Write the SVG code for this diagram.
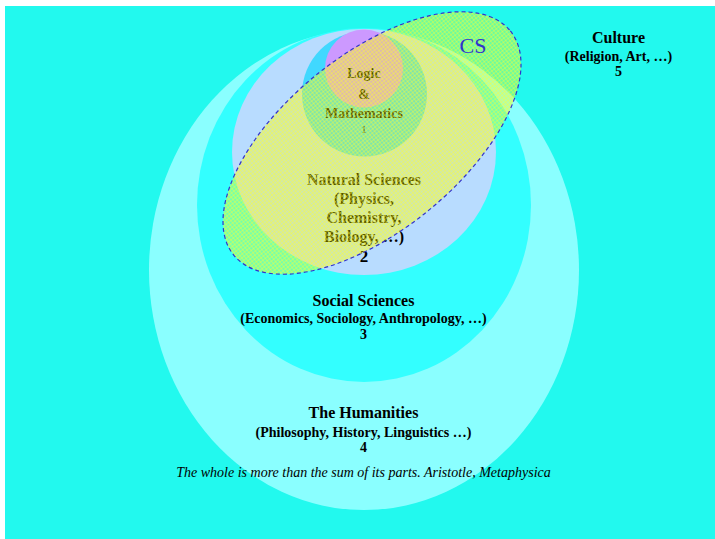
<svg xmlns="http://www.w3.org/2000/svg" width="715" height="539" viewBox="0 0 715 539">
<defs>
<pattern id="mesh" patternUnits="userSpaceOnUse" width="3" height="3">
<rect width="3" height="3" fill="#ffff00" fill-opacity="0.33"/>
<path d="M0 0.5H3M0.5 0V3" stroke="#ffff30" stroke-width="0.8" stroke-opacity="0.5" fill="none"/>
</pattern>
</defs>
<style>
text{font-family:"Liberation Serif","Times New Roman",serif;text-anchor:middle;fill:#000}
.t{font-weight:bold;font-size:16px}
.s{font-weight:bold;font-size:14px}
.n{font-weight:bold;font-size:14px}
.q{font-style:italic;font-size:14px}
</style>
<rect x="5" y="6" width="710" height="533" fill="#22f9ee"/>
<g id="humanities">
<ellipse cx="364" cy="270" rx="215" ry="240" fill="#8affff"/>
</g>
<g id="social">
<ellipse cx="364" cy="205" rx="167" ry="177" fill="#33ffff"/>
</g>
<g id="natural">
<ellipse cx="364" cy="152" rx="132" ry="123" fill="#b8dcff"/>
</g>
<g id="logic">
<circle cx="364.5" cy="94" r="62.5" fill="#40d8ff"/>
<circle cx="364" cy="68.5" r="39" fill="#cc99ff"/>
</g>
<g id="labels-inner">
<text class="t" x="364" y="78" style="font-size:14px">Logic</text>
<text class="t" x="364" y="99" style="font-size:14px">&amp;</text>
<text class="t" x="364" y="118" style="font-size:14px">Mathematics</text>
<text x="364" y="133" style="font-size:10px">1</text>
<text class="t" x="364" y="185">Natural Sciences</text>
<text class="t" x="364" y="204">(Physics,</text>
<text class="t" x="364" y="223">Chemistry,</text>
<text class="t" x="364" y="242">Biology, …)</text>
<text class="t" x="364" y="262" style="font-size:17px">2</text>
</g>
<g id="social-labels">
<text class="t" x="363.5" y="306">Social Sciences</text>
<text class="s" x="363.5" y="323">(Economics, Sociology, Anthropology, …)</text>
<text class="n" x="363.5" y="339">3</text>
</g>
<g id="humanities-labels">
<text class="t" x="363.5" y="418">The Humanities</text>
<text class="s" x="363.5" y="437">(Philosophy, History, Linguistics …)</text>
<text class="n" x="363.5" y="452">4</text>
<text class="q" x="363.5" y="477">The whole is more than the sum of its parts. Aristotle, Metaphysica</text>
</g>
<g id="cs">
<ellipse cx="372" cy="143" rx="178" ry="88" transform="rotate(-39 372 143)" fill="url(#mesh)" stroke="#3333cc" stroke-width="1.2" stroke-dasharray="4 3"/>
<text x="473" y="53" style="font-size:22px;fill:#3333cc">CS</text>
</g>
<g id="culture">
<text class="t" x="618.5" y="43">Culture</text>
<text class="s" x="618.5" y="61">(Religion, Art, …)</text>
<text class="n" x="618.5" y="76">5</text>
</g>
</svg>
